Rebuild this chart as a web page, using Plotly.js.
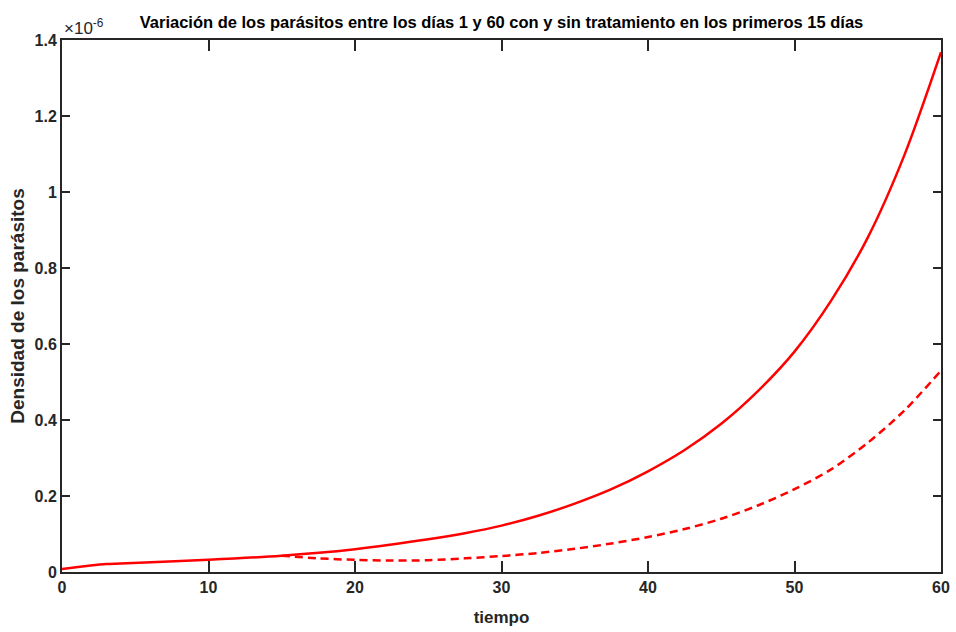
<!DOCTYPE html>
<html>
<head>
<meta charset="utf-8">
<script src="https://cdn.plot.ly/plotly-3.0.1.min.js"></script>
<style>html,body{margin:0;padding:0;background:#fff;}#chart{width:956px;height:632px;}</style>
</head>
<body>
<div id="chart"></div>
<script>
// Values in units of 1e-6
const tiempoSin = [0, 3, 4, 10, 15, 20, 25, 27.5, 30, 32.5, 35, 37.5, 40, 42.5, 45, 47.5, 50, 52.5, 55, 57.5, 60];
const densidadSin = [0.008, 0.021, 0.0225, 0.032, 0.043, 0.06, 0.086, 0.102, 0.122, 0.148, 0.18, 0.218, 0.265, 0.321, 0.39, 0.476, 0.58, 0.714, 0.88, 1.097, 1.368];
const tiempoCon = [15, 17.5, 20, 22.5, 25, 27.5, 30, 32.5, 35, 37.5, 40, 42.5, 45, 47.5, 50, 52.5, 55, 57.5, 60];
const densidadCon = [0.043, 0.036, 0.032, 0.03, 0.031, 0.036, 0.042, 0.05, 0.061, 0.075, 0.092, 0.113, 0.14, 0.175, 0.218, 0.27, 0.34, 0.425, 0.53];
const xTicks = [0, 10, 20, 30, 40, 50, 60];
const yTicks = [0, 0.2, 0.4, 0.6, 0.8, 1, 1.2, 1.4];
const yTickText = ['0', '0.2', '0.4', '0.6', '0.8', '1', '1.2', '1.4'];

const axisColor = '#262626';
const fontFam = '"Liberation Sans", Arial, sans-serif';

const traces = [
  {x: tiempoSin, y: densidadSin, mode: 'lines', line: {color: '#ff0000', width: 2.5, shape: 'spline', smoothing: 0.85}, hoverinfo: 'skip'},
  {x: tiempoCon, y: densidadCon, mode: 'lines', line: {color: '#ff0000', width: 2.5, dash: '8px,5px', shape: 'spline', smoothing: 0.85}, hoverinfo: 'skip'}
];

const layout = {
  width: 956, height: 632,
  margin: {l: 62, r: 15, t: 40, b: 60},
  paper_bgcolor: '#fff', plot_bgcolor: '#fff',
  showlegend: false,
  font: {family: fontFam, color: axisColor},
  title: {
    text: '<b>Variación de los parásitos entre los días 1 y 60 con y sin tratamiento en los primeros 15 días</b>',
    font: {family: fontFam, size: 16.5, color: '#000'},
    x: 0.5, xref: 'paper', xanchor: 'center',
    y: 1, yref: 'container', yanchor: 'top', pad: {t: 16}
  },
  xaxis: {
    range: [0, 60], tickvals: xTicks, ticktext: xTicks.map(v => '<b>' + v + '</b>'),
    showline: true, linecolor: axisColor, linewidth: 2, mirror: 'ticks',
    ticks: 'inside', ticklen: 11, tickwidth: 2, tickcolor: axisColor,
    showgrid: false, zeroline: false,
    tickfont: {family: fontFam, size: 16, color: axisColor},
    title: {text: '<b>tiempo</b>', font: {family: fontFam, size: 17, color: axisColor}, standoff: 16}
  },
  yaxis: {
    range: [0, 1.4], tickvals: yTicks, ticktext: yTickText.map(v => '<b>' + v + '</b>'),
    showline: true, linecolor: axisColor, linewidth: 2, mirror: 'ticks',
    ticks: 'inside', ticklen: 8, tickwidth: 2, tickcolor: axisColor,
    showgrid: false, zeroline: false,
    tickfont: {family: fontFam, size: 16, color: axisColor},
    title: {text: '<b>Densidad de los parásitos</b>', font: {family: fontFam, size: 19, color: axisColor}, standoff: 5}
  },
  annotations: [
    {text: '×10<sup>-6</sup>', xref: 'paper', yref: 'paper', x: 0, y: 1, xanchor: 'left', yanchor: 'bottom',
     showarrow: false, font: {family: fontFam, size: 17, color: axisColor}, yshift: 0}
  ]
};

Plotly.newPlot('chart', traces, layout, {displayModeBar: false, staticPlot: true});
</script>
</body>
</html>
